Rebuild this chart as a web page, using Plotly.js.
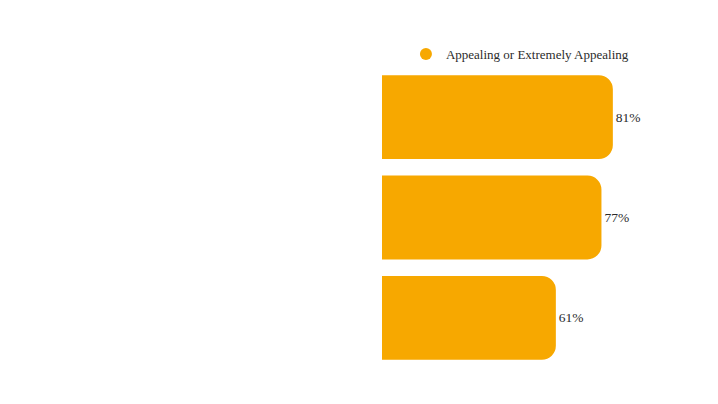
<!DOCTYPE html>
<html>
<head>
<meta charset="utf-8">
<script src="https://cdn.plot.ly/plotly-3.0.1.min.js"></script>
<style>
  html, body { margin: 0; padding: 0; background: #ffffff; }
  #chart { width: 718px; height: 404px; }
</style>
</head>
<body>
<div id="chart"></div>
<script>
var categories = ['Option 1', 'Option 2', 'Option 3'];
var appealing = [81, 77, 61];
var seriesName = 'Appealing or Extremely Appealing';
var barColor = '#f7a800';
var fontFamily = 'Liberation Serif, DejaVu Serif, serif';

var traces = [
  {
    type: 'bar',
    orientation: 'h',
    y: categories,
    x: appealing,
    name: seriesName,
    showlegend: false,
    marker: { color: barColor },
    text: appealing.map(function (v) { return v + '%'; }),
    textposition: 'outside',
    cliponaxis: false,
    textfont: { family: fontFamily, size: 13.5, color: '#2b2b2b' },
    hoverinfo: 'none'
  },
  {
    // legend entry with a round marker, as in the original
    type: 'scatter',
    mode: 'markers',
    x: [null],
    y: [null],
    name: seriesName,
    marker: { color: barColor, size: 12, symbol: 'circle' },
    showlegend: true,
    hoverinfo: 'none'
  }
];

var layout = {
  width: 718,
  height: 404,
  margin: { l: 382, r: 51, t: 67, b: 36, pad: 0 },
  paper_bgcolor: '#ffffff',
  plot_bgcolor: '#ffffff',
  font: { family: fontFamily, color: '#2b2b2b', size: 13 },
  bargap: 0.164,
  barcornerradius: 14,
  showlegend: true,
  legend: {
    orientation: 'h',
    x: 0.084,
    xanchor: 'left',
    y: 1.043,
    yanchor: 'middle',
    itemwidth: 30,
    bgcolor: 'rgba(0,0,0,0)',
    font: { family: fontFamily, size: 13, color: '#2b2b2b' }
  },
  xaxis: {
    range: [0, 100],
    visible: false,
    fixedrange: true
  },
  yaxis: {
    type: 'category',
    autorange: 'reversed',
    showticklabels: false,
    showgrid: false,
    zeroline: false,
    showline: false,
    ticks: '',
    fixedrange: true
  }
};

var config = { displayModeBar: false, staticPlot: true };

Plotly.newPlot('chart', traces, layout, config);
</script>
</body>
</html>
